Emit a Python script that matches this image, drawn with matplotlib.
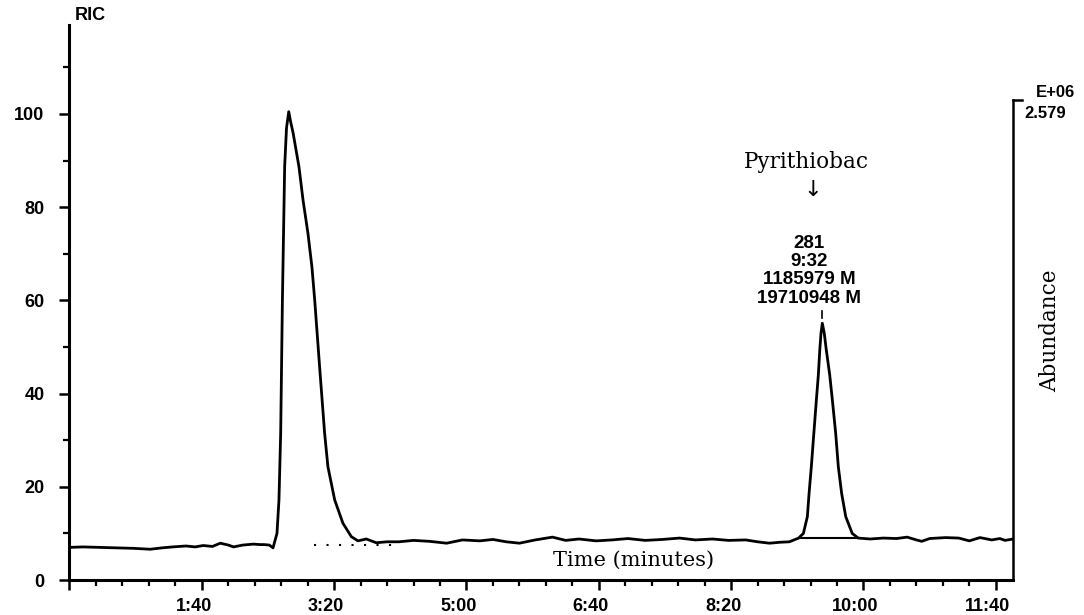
import numpy as np
import matplotlib.pyplot as plt
from matplotlib.ticker import MultipleLocator, FuncFormatter
from matplotlib.transforms import ScaledTranslation

# retention time (s) and relative abundance (%)
times = [0, 10, 23, 35, 48, 61, 70, 78, 88, 95, 101, 108, 114, 120, 124, 131, 139, 144, 147, 151, 153.8,
         156.8, 158.3, 159.6, 160.9, 162.6, 164, 165.7, 167, 169, 173.4, 176.5, 180.2, 183.2, 185.3,
         189, 192.8, 195.3, 200.4, 206.6, 213, 218, 224.3, 231.8, 240, 249,
         260, 272, 285, 297, 310, 320, 330, 340, 352, 365, 375, 385, 398, 410, 422, 435, 448, 461,
         473, 486, 498, 511, 520, 529, 537, 544, 551,
         554.6, 557.6, 558.9, 560.6, 562.5, 564.4, 565.9, 567, 567.9, 568.9, 570.4, 571.9, 574.5,
         576.5, 579, 581, 583.5, 586.6, 591.5, 596,
         605, 615, 625, 633, 640, 644, 650, 662, 672, 680, 688, 697, 703, 707, 713]
abundance = [7.0, 7.1, 7.0, 6.9, 6.8, 6.6, 6.9, 7.1, 7.3, 7.1, 7.4, 7.2, 7.9, 7.5, 7.1, 7.5, 7.7, 7.6, 7.6, 7.5, 6.9,
             10, 17.2, 31.5, 60, 88.7, 97, 100.5, 98.5, 95.9, 88.7, 81.5, 74.4, 67.2, 60.1,
             45.8, 31.5, 24.3, 17.2, 12.2, 9.3, 8.4, 8.8, 8.0, 8.2, 8.2,
             8.5, 8.3, 7.9, 8.6, 8.4, 8.7, 8.2, 7.9, 8.6, 9.2, 8.5, 8.8, 8.4, 8.6, 8.9, 8.5, 8.7, 9.0,
             8.6, 8.8, 8.5, 8.6, 8.2, 7.9, 8.1, 8.2, 9.0,
             10, 13.6, 18.6, 24.3, 31.5, 38.6, 44, 49.4, 52.9, 55.1, 52.9, 49.4, 44,
             38.6, 31.5, 24.3, 18.6, 13.6, 10, 9.0,
             8.8, 9.0, 8.9, 9.2, 8.6, 8.3, 8.9, 9.1, 9.0, 8.4, 9.1, 8.6, 8.9, 8.5, 8.8]

peak2_start, peak2_end, peak2_base = 551, 596, 9.0
peak2_apex = 568.9
peak1_base = [185, 250]
peak_info = ["281", "9:32", "1185979 M", "19710948 M"]
x_max = 713
full_scale = "2.579"

plt.rcParams['font.family'] = ['Liberation Sans', 'DejaVu Sans']

fig = plt.figure(figsize=(10.84, 6.15), dpi=100)
ax = fig.add_axes([0.0641, 0.0569, 0.8704, 0.9025])

ax.plot(times, abundance, color='black', lw=2.0, solid_joinstyle='round')
ax.plot([peak2_start, peak2_end], [peak2_base, peak2_base], color='black', lw=1.5)
ax.plot(peak1_base, [7.5, 7.5], color='black', lw=1.5, ls=(0, (1, 5)))
ax.plot([peak2_apex, peak2_apex], [56.3, 57.8], color='black', lw=1.2)

ax.set_xlim(0, x_max)
ax.set_ylim(0, 119.1)

# spines
ax.spines['top'].set_visible(False)
ax.spines['left'].set_linewidth(2.2)
ax.spines['bottom'].set_linewidth(2.2)
ax.spines['right'].set_linewidth(1.8)
ax.spines['right'].set_bounds(0, 102.9)
ax.plot([x_max, x_max + 7], [102.9, 102.9], color='black', lw=1.8, clip_on=False)

# ticks
ax.xaxis.set_major_locator(MultipleLocator(100))
ax.xaxis.set_minor_locator(MultipleLocator(20))
ax.xaxis.set_major_formatter(FuncFormatter(
    lambda v, p: "" if v == 0 else f"{int(v) // 60}:{int(v) % 60:02d}"))
ax.yaxis.set_minor_locator(MultipleLocator(10))
ax.set_yticks([0, 20, 40, 60, 80, 100])
ax.tick_params(axis='x', which='major', direction='out', length=7, width=1.8, pad=6,
               labelsize=13)
ax.tick_params(axis='x', which='minor', direction='out', length=4, width=1.6)
ax.tick_params(axis='y', which='major', direction='out', length=7, width=1.8, pad=11,
               labelsize=13)
ax.tick_params(axis='y', which='minor', direction='out', length=4, width=1.6)
for lab in ax.get_xticklabels() + ax.get_yticklabels():
    lab.set_fontweight('bold')
offset = ScaledTranslation(-0.08, 0, fig.dpi_scale_trans)
for lab in ax.get_xticklabels():
    lab.set_transform(lab.get_transform() + offset)

# texts
fig.text(0.069, 0.975, "RIC", fontsize=13, fontweight='bold', va='center', ha='left')
fig.text(0.956, 0.849, "E+06", fontsize=12, fontweight='bold', va='center', ha='left')
fig.text(0.945, 0.816, full_scale, fontsize=12, fontweight='bold', va='center', ha='left')
fig.text(0.969, 0.463, "Abundance", fontsize=15.5, family='DejaVu Serif', rotation=90,
         va='center', ha='center')
ax.text(426, 4.3, "Time (minutes)", fontsize=15, family='DejaVu Serif', ha='center', va='center')
ax.text(556.6, 89.7, "Pyrithiobac", fontsize=15.5, family='DejaVu Serif', ha='center', va='center')
ax.text(562, 83.7, "\u2193", fontsize=16, family='DejaVu Sans', ha='center', va='center')
for i, line in enumerate(peak_info):
    ax.text(558.7, 72.3 - i * 3.95, line, fontsize=13.5, fontweight='bold',
            ha='center', va='center')

fig.savefig("out.png", dpi=100)
